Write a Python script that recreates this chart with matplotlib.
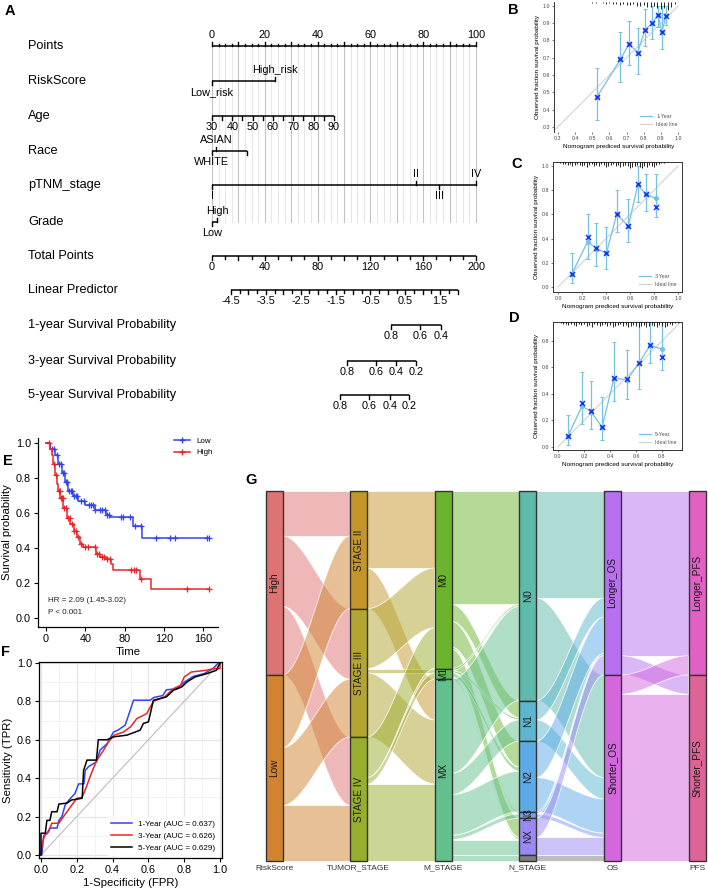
import numpy as np
import matplotlib
matplotlib.use("Agg")
import matplotlib.pyplot as plt
from matplotlib.patches import Rectangle, Polygon
from matplotlib.lines import Line2D
from matplotlib.colors import to_rgba

plt.rcParams["font.family"] = ["Liberation Sans", "DejaVu Sans"]

# ---------------- A: nomogram (positions in the 0-100 points scale) ----------------
nomo_labels = ["Points", "RiskScore", "Age", "Race", "pTNM_stage", "Grade",
               "Total Points", "Linear Predictor", "1-year Survival Probability",
               "3-year Survival Probability", "5-year Survival Probability"]
risk_levels = ["Low_risk", "High_risk"]
risk_points = [0.0, 23.9]
age_ticks = [30, 35, 40, 45, 50, 55, 60, 65, 70, 75, 80, 85, 90]
age_labels = [30, 40, 50, 60, 70, 80, 90]
age_max_points = 46.2
race_levels = ["WHITE", "ASIAN", ""]
race_points = [0.0, 1.5, 13.3]
stage_levels = ["I", "II", "III", "IV"]
stage_points = [0.0, 77.3, 86.0, 100.0]
grade_levels = ["Low", "High"]
grade_points = [0.0, 2.0]
lp_labels = [-4.5, -3.5, -2.5, -1.5, -0.5, 0.5, 1.5]
lp_range = [-4.5, 2.0]
lp_total_at_min = 14.4      # total points at LP = -4.5
lp_total_per_unit = 26.4
surv1_probs = [0.8, 0.6, 0.4]
surv1_total = [135.6, 157.6, 173.5]
surv3_probs = [0.8, 0.6, 0.4, 0.2]
surv3_total = [102.4, 124.2, 139.4, 154.5]
surv5_probs = [0.8, 0.6, 0.4, 0.2]
surv5_total = [97.0, 119.0, 134.8, 149.2]

# ---------------- B-D: calibration ----------------
b_pred = [0.528, 0.664, 0.714, 0.765, 0.806, 0.849, 0.884, 0.905, 0.932]
b_obs = [0.474, 0.69, 0.78, 0.73, 0.86, 0.90, 0.95, 0.85, 0.945]
b_corr = [0.47, 0.69, 0.78, 0.73, 0.86, 0.90, 0.95, 0.85, 0.94]
b_lo = [0.34, 0.56, 0.66, 0.605, 0.77, 0.81, 0.88, 0.75, 0.89]
b_hi = [0.64, 0.85, 0.915, 0.87, 0.98, 1.0, 1.0, 1.0, 1.0]
b_rug = [1, 1, 0, 1, 2, 1, 2, 2, 3, 2, 3, 3, 2, 4, 4, 3, 5, 5, 4, 6, 7, 6, 8, 5, 2]

c_pred = [0.114, 0.247, 0.319, 0.403, 0.489, 0.586, 0.664, 0.733, 0.814]
c_obs = [0.105, 0.376, 0.318, 0.28, 0.60, 0.503, 0.843, 0.768, 0.732]
c_corr = [0.105, 0.41, 0.325, 0.28, 0.60, 0.503, 0.85, 0.77, 0.664]
c_lo = [0.036, 0.232, 0.174, 0.152, 0.455, 0.376, 0.705, 0.63, 0.575]
c_hi = [0.28, 0.60, 0.53, 0.50, 0.80, 0.724, 1.0, 0.93, 0.93]
c_rug = [1, 2, 2, 3, 2, 4, 3, 2, 3, 4, 3, 5, 3, 2, 4, 3, 4, 2, 3, 5, 4, 3, 2, 4,
         3, 5, 4, 3, 4, 6, 5, 4, 3, 5, 6, 4, 5, 3, 4, 5, 3, 2, 1, 1, 0]

d_pred = [0.075, 0.186, 0.255, 0.34, 0.431, 0.532, 0.622, 0.71, 0.80]
d_obs = [0.08, 0.31, 0.264, 0.15, 0.52, 0.507, 0.632, 0.768, 0.737]
d_corr = [0.085, 0.33, 0.27, 0.15, 0.52, 0.51, 0.63, 0.77, 0.677]
d_lo = [0.018, 0.175, 0.138, 0.055, 0.344, 0.363, 0.434, 0.635, 0.58]
d_hi = [0.243, 0.564, 0.494, 0.38, 0.79, 0.73, 0.94, 0.94, 0.94]
d_rug = [1, 2, 2, 3, 2, 3, 4, 2, 3, 2, 4, 3, 5, 2, 3, 4, 3, 2, 4, 3, 5, 4, 3, 2,
         4, 3, 5, 4, 3, 4, 5, 4, 3, 5, 4, 3, 4, 5, 3, 4, 5, 4, 2, 3, 1, 1]

# ---------------- E: Kaplan-Meier ----------------
low_time = [0, 4, 9, 12, 16, 19, 22, 27, 33, 40, 50, 61, 65, 88, 98, 166]
low_surv = [1.0, 0.965, 0.93, 0.88, 0.83, 0.78, 0.725, 0.695, 0.667, 0.645,
            0.62, 0.59, 0.576, 0.529, 0.457, 0.457]
low_censor = [6, 8, 11, 13, 15, 17, 18, 20, 21, 23, 25, 26, 28, 30, 32, 36, 39, 44,
              46, 48, 50, 55, 57, 60, 62, 64, 76, 78, 85, 91, 97, 112, 126, 131, 164, 166]
high_time = [0, 4, 6, 7.5, 9, 11, 12.6, 14.3, 17.7, 21, 24.5, 28, 31, 34.7, 38,
             51, 55, 61, 66.5, 68.5, 95.5, 107, 166]
high_surv = [1.0, 0.965, 0.93, 0.88, 0.82, 0.765, 0.725, 0.687, 0.63, 0.57, 0.54,
             0.5, 0.462, 0.425, 0.405, 0.367, 0.35, 0.34, 0.31, 0.273, 0.226, 0.169, 0.169]
high_censor = [3, 8, 10, 13, 14, 15, 16, 17, 18, 20, 22, 24, 26, 28, 30, 33, 36, 40,
               43, 50, 52, 54, 57, 59, 62, 65, 86, 90, 92, 97, 143, 166]

# ---------------- F: ROC ----------------
roc1_fpr = [0, 0.005, 0.015, 0.033, 0.05, 0.09, 0.10, 0.117, 0.135, 0.16, 0.19, 0.21,
            0.24, 0.247, 0.266, 0.31, 0.33, 0.37, 0.405, 0.43, 0.47, 0.49, 0.517, 0.61,
            0.63, 0.68, 0.70, 0.76, 0.80, 0.85, 0.91, 0.96, 0.99, 1.0]
roc1_tpr = [0, 0.0, 0.10, 0.11, 0.14, 0.14, 0.18, 0.20, 0.26, 0.29, 0.32, 0.37, 0.37,
            0.44, 0.46, 0.485, 0.546, 0.58, 0.64, 0.65, 0.676, 0.73, 0.806, 0.806, 0.82,
            0.83, 0.86, 0.866, 0.90, 0.93, 0.944, 0.97, 1.0, 1.0]
roc3_fpr = [0, 0.006, 0.024, 0.043, 0.06, 0.10, 0.126, 0.2, 0.23, 0.256, 0.275, 0.31,
            0.35, 0.377, 0.41, 0.46, 0.5, 0.535, 0.59, 0.628, 0.69, 0.74, 0.78, 0.80,
            0.84, 0.925, 0.96, 1.0, 1.0]
roc3_tpr = [0, 0.06, 0.11, 0.12, 0.165, 0.165, 0.2, 0.295, 0.30, 0.36, 0.41, 0.49,
            0.546, 0.59, 0.624, 0.64, 0.667, 0.71, 0.736, 0.80, 0.823, 0.866, 0.884,
            0.927, 0.953, 0.962, 0.97, 0.97, 1.0]
roc5_fpr = [0, 0.0, 0.024, 0.033, 0.05, 0.06, 0.09, 0.10, 0.145, 0.17, 0.23, 0.238,
            0.257, 0.31, 0.32, 0.37, 0.405, 0.48, 0.554, 0.572, 0.6, 0.628, 0.70, 0.74,
            0.786, 0.814, 0.86, 0.925, 0.98, 1.0]
roc5_tpr = [0, 0.113, 0.113, 0.18, 0.18, 0.225, 0.225, 0.265, 0.27, 0.286, 0.295,
            0.44, 0.494, 0.494, 0.6, 0.6, 0.615, 0.624, 0.65, 0.685, 0.693, 0.806,
            0.823, 0.858, 0.875, 0.9, 0.927, 0.944, 0.962, 1.0]
roc_labels = ["1-Year (AUC = 0.637)", "3-Year (AUC = 0.626)", "5-Year (AUC = 0.629)"]

# ---------------- G: alluvial ----------------
sankey_axes = ["RiskScore", "TUMOR_STAGE", "M_STAGE", "N_STAGE", "OS", "PFS"]
risk_strata = ["High", "Low"]
tumor_strata = ["STAGE II", "STAGE III", "STAGE IV"]
m_strata = ["M0", "M1", "MX"]
n_strata = ["N0", "N1", "N2", "N3", "NX", ""]
os_strata = ["Longer_OS", "Shorter_OS"]
pfs_strata = ["Longer_PFS", "Shorter_PFS"]
risk_to_tumor = [[21, 33, 32], [34, 27, 26]]
tumor_to_m = [[36, 0, 19], [28, 2, 30], [19, 3, 36]]
m_to_n = [[53, 8, 12, 1, 9, 0], [1, 1, 2, 0, 1, 0], [44, 10, 19, 2, 7, 3]]
n_to_os = [[50, 48], [9, 10], [17, 16], [1, 2], [9, 8], [0, 3]]
os_to_pfs = [[77, 9], [9, 78]]
strata_colors = [["#DE7373", "#D2832F"],
                 ["#C4962A", "#B3A530", "#98AE2E"],
                 ["#6CB42E", "#5DBA58", "#62C08C"],
                 ["#5EBAAA", "#5BB6CF", "#5DAAE8", "#7A9CF2", "#9C88F2", "#7F7F7F"],
                 ["#B970F0", "#D466DE"],
                 ["#E060C4", "#DE6496"]]

W, H = 708, 891
fig = plt.figure(figsize=(W / 100, H / 100), dpi=100)


def px_axes(x0, y0, x1, y1):
    return fig.add_axes([x0 / W, 1 - y1 / H, (x1 - x0) / W, (y1 - y0) / H])


def panel_label(x, y, s):
    fig.text(x / W, 1 - y / H, s, fontsize=10.5, fontweight="bold", ha="center", va="center")


# ================= A =================
PT_X0, PT_PX = 212, 2.64
axA = px_axes(0, 0, 490, 440)
axA.set_xlim(-PT_X0 / PT_PX, (490 - PT_X0) / PT_PX)
axA.set_ylim(440, 0)
axA.axis("off")
row_y = [46, 81, 116, 151, 185, 222, 256, 290, 325, 361, 395]
label_x = (28 - PT_X0) / PT_PX
for lab, y in zip(nomo_labels, row_y):
    axA.text(label_x, y, lab, ha="left", va="center", fontsize=9.2)

TICK_FS = 7.8
LW = 1.1


def hline(x0, x1, y):
    axA.plot([x0, x1], [y, y], color="black", lw=LW, solid_capstyle="butt")


def tick(x, y, length):
    axA.plot([x, x], [y, y + length], color="black", lw=LW * 0.9)


def tick_label(x, y, s, below=True):
    axA.text(x, y + (11 if below else -11), s, ha="center", va="center", fontsize=TICK_FS)


# vertical grid
for p in np.arange(0, 100.1, 2.5):
    col = "#C4C4C4" if p % 10 == 0 else "#E6E6E6"
    axA.plot([p, p], [row_y[0], row_y[5]], color=col, lw=0.8, zorder=0)

# Points
y = row_y[0]
hline(0, 100, y)
for p in np.arange(0, 100.1, 2.5):
    tick(p, y, -4 if p % 10 == 0 else -2.5)
for p in range(0, 101, 20):
    tick_label(p, y, str(p), below=False)


def categorical(y, pts, levels, above):
    hline(min(pts), max(pts), y)
    for p, lev, up in zip(pts, levels, above):
        tick(p, y, -4 if up else 4)
        if lev:
            tick_label(p, y, lev, below=not up)


categorical(row_y[1], risk_points, risk_levels, [False, True])
# Age
y = row_y[2]
age_pts = [(a - age_ticks[0]) / (age_ticks[-1] - age_ticks[0]) * age_max_points for a in age_ticks]
hline(age_pts[0], age_pts[-1], y)
for a, p in zip(age_ticks, age_pts):
    tick(p, y, 4)
    if a in age_labels:
        tick_label(p, y, str(a))
categorical(row_y[3], race_points, race_levels, [False, True, False])
categorical(row_y[4], stage_points, stage_levels, [False, True, False, True])
categorical(row_y[5], grade_points, grade_levels, [False, True])

# Total points (0-200 mapped to 0-100)
y = row_y[6]
hline(0, 100, y)
for tp in range(0, 201, 10):
    tick(tp / 2, y, 4 if tp % 20 == 0 else 2.5)
for tp in range(0, 201, 40):
    tick_label(tp / 2, y, str(tp))


def lp_x(lp):
    return (lp_total_at_min + (lp - lp_range[0]) * lp_total_per_unit) / 2


y = row_y[7]
hline(lp_x(lp_range[0]), lp_x(lp_range[1]), y)
for lp in np.arange(lp_range[0], lp_range[1] + 0.01, 0.25):
    tick(lp_x(lp), y, 4 if abs(lp * 2 - round(lp * 2)) < 1e-6 else 2.5)
for lp in lp_labels:
    tick_label(lp_x(lp), y, f"{lp:g}")

for y, probs, tots in [(row_y[8], surv1_probs, surv1_total),
                       (row_y[9], surv3_probs, surv3_total),
                       (row_y[10], surv5_probs, surv5_total)]:
    hline(tots[0] / 2, tots[-1] / 2, y)
    for pr, tp in zip(probs, tots):
        tick(tp / 2, y, 4)
        tick_label(tp / 2, y, f"{pr:.1f}")

# ================= B-D =================
CAL_BLUE = "#74C2E0"
X_BLUE = "#1A35F0"


def calib(box, xlim, ylim, xticks, yticks, pred, obs, corr, lo, hi, rug, rug_x0,
          legend_label, frame):
    ax = px_axes(*box)
    ax.set_xlim(xlim)
    ax.set_ylim(ylim)
    ax.plot([0, 1], [0, 1], color="#D2D2D2", lw=0.8, zorder=1)
    obs = np.array(obs)
    ax.errorbar(pred, obs, yerr=[obs - np.array(lo), np.array(hi) - obs], color=CAL_BLUE,
                lw=0.9, elinewidth=0.9, capsize=1.3, capthick=0.7, marker="o", ms=2.6, zorder=2)
    ax.plot(pred, corr, "x", color=X_BLUE, ms=3.6, mew=1.1, zorder=3)
    span = ylim[1] - ylim[0]
    rx = [rug_x0 + 0.02 * i for i in range(len(rug))]
    ax.vlines(rx, [ylim[1] - c * 0.008 * span for c in rug], ylim[1], color="black", lw=0.6,
              zorder=4)
    ax.set_xticks(xticks)
    ax.set_yticks(yticks)
    ax.set_xticklabels([f"{v:.1f}" for v in xticks])
    ax.set_yticklabels([f"{v:.1f}" for v in yticks])
    ax.tick_params(labelsize=3.8, length=1.5, width=0.5, pad=1.5, colors="#444444")
    for side, sp in ax.spines.items():
        sp.set_linewidth(0.7)
        sp.set_color("#333333")
        if not frame and side in ("top", "right", "bottom"):
            sp.set_visible(False)
    ax.set_xlabel("Nomogram prediced survival probability", fontsize=4.6, labelpad=2)
    ax.set_ylabel("Observed fraction survival probability", fontsize=4.6, labelpad=2)
    handles = [Line2D([], [], color=CAL_BLUE, lw=0.9), Line2D([], [], color="#D2D2D2", lw=0.9)]
    ax.legend(handles, [legend_label, "Ideal line"], loc="lower right", fontsize=3.8,
              frameon=False, handlelength=2.2, labelcolor="#555555", borderaxespad=0.6)
    return ax


calib((554, 2, 683, 132), (0.277, 1.029), (0.27, 1.023),
      [0.3, 0.4, 0.5, 0.6, 0.7, 0.8, 0.9, 1.0], [0.3, 0.4, 0.5, 0.6, 0.7, 0.8, 0.9, 1.0],
      b_pred, b_obs, b_corr, b_lo, b_hi, b_rug, 0.50, "1-Year", False)
calib((553, 162, 682, 292), (-0.042, 1.033), (-0.041, 1.033),
      [0.0, 0.2, 0.4, 0.6, 0.8, 1.0], [0.0, 0.2, 0.4, 0.6, 0.8, 1.0],
      c_pred, c_obs, c_corr, c_lo, c_hi, c_rug, 0.02, "3-Year", True)
calib((553, 322, 682, 450), (-0.038, 0.954), (-0.023, 0.943),
      [0.0, 0.2, 0.4, 0.6, 0.8], [0.0, 0.2, 0.4, 0.6, 0.8],
      d_pred, d_obs, d_corr, d_lo, d_hi, d_rug, 0.02, "5-Year", True)

# ================= E =================
KM_BLUE = "#3344EE"
KM_RED = "#E8262A"
axE = px_axes(38, 438, 218, 627)
for t, s, cens, col, lab in [(low_time, low_surv, low_censor, KM_BLUE, "Low"),
                             (high_time, high_surv, high_censor, KM_RED, "High")]:
    axE.step(t, s, where="post", color=col, lw=1.1, label=lab,
             marker="+", markevery=[], ms=5)
    idx = np.searchsorted(t, cens, side="right") - 1
    axE.plot(cens, np.array(s)[idx], "+", color=col, ms=4.5, mew=0.9)
axE.set_xlim(-8.2, 175)
axE.set_ylim(-0.051, 1.029)
axE.set_xticks([0, 40, 80, 120, 160])
axE.set_yticks([0.0, 0.2, 0.4, 0.6, 0.8, 1.0])
axE.set_yticklabels(["0.0", "0.2", "0.4", "0.6", "0.8", "1.0"])
axE.spines[["top", "right"]].set_visible(False)
for sp in axE.spines.values():
    sp.set_linewidth(0.9)
axE.tick_params(labelsize=7.8, length=3, width=0.8, pad=2)
axE.set_xlabel("Time", fontsize=8.2, labelpad=2)
axE.set_ylabel("Survival probability", fontsize=8.2, labelpad=3)
km_handles = [Line2D([], [], color=KM_BLUE, lw=1.1, marker="+", ms=5),
              Line2D([], [], color=KM_RED, lw=1.1, marker="+", ms=5)]
axE.legend(km_handles, ["Low", "High"], loc="upper right", fontsize=5.8, frameon=False,
           handlelength=2.0, borderaxespad=0.2, bbox_to_anchor=(1.0, 1.03))
axE.text(2, 0.1, "HR = 2.09 (1.45-3.02)", fontsize=5.8, va="center", color="#222222")
axE.text(2, 0.03, "P < 0.001", fontsize=5.8, va="center", color="#222222")

# ================= F =================
axF = px_axes(39, 662, 222, 858)
axF.set_xlim(-0.011, 1.011)
axF.set_ylim(-0.016, 1.005)
axF.set_xticks([0, 0.2, 0.4, 0.6, 0.8, 1.0])
axF.set_yticks([0, 0.2, 0.4, 0.6, 0.8, 1.0])
axF.set_xticks(np.arange(0.1, 1.0, 0.2), minor=True)
axF.set_yticks(np.arange(0.1, 1.0, 0.2), minor=True)
axF.set_xticklabels(["0.0", "0.2", "0.4", "0.6", "0.8", "1.0"])
axF.set_yticklabels(["0.0", "0.2", "0.4", "0.6", "0.8", "1.0"])
axF.grid(True, which="major", color="#E6E6E6", lw=0.9)
axF.grid(True, which="minor", color="#F0F0F0", lw=0.6)
axF.tick_params(which="minor", length=0)
axF.tick_params(labelsize=7.8, length=3, width=0.8, pad=2)
axF.set_axisbelow(True)
for sp in axF.spines.values():
    sp.set_linewidth(0.9)
axF.plot([0, 1], [0, 1], color="#BDBDBD", lw=0.8)
for fpr, tpr, col, lab in [(roc1_fpr, roc1_tpr, "#3344EE", roc_labels[0]),
                           (roc3_fpr, roc3_tpr, "#E8262A", roc_labels[1]),
                           (roc5_fpr, roc5_tpr, "black", roc_labels[2])]:
    axF.plot(fpr, tpr, color=col, lw=1.1, label=lab)
axF.legend(loc="lower right", fontsize=5.8, frameon=True, fancybox=False, edgecolor="white",
           handlelength=2.6, borderaxespad=0.4)
axF.set_xlabel("1-Specificity (FPR)", fontsize=8.2, labelpad=2)
axF.set_ylabel("Sensitivity (TPR)", fontsize=8.2, labelpad=3)

# ================= G =================
strata = [risk_strata, tumor_strata, m_strata, n_strata, os_strata, pfs_strata]
flows = [risk_to_tumor, tumor_to_m, m_to_n, n_to_os, os_to_pfs]
totals = [np.array(risk_to_tumor).sum(axis=1)] + [np.array(f).sum(axis=0) for f in flows]
N = totals[0].sum()
G_TOP, G_BOT = 491, 861
scale = N / (G_BOT - G_TOP)
axG = px_axes(250, 486, 708, 878)
STEP = 84.6
axG.set_xlim(-24 / STEP, (708 - 274) / STEP)
axG.set_ylim(N + (878 - G_BOT) * scale, -(G_TOP - 486) * scale)
axG.axis("off")
half_w = 8.5 / STEP
tt = np.linspace(0, 1, 60)
ss = tt * tt * (3 - 2 * tt)
for i, mat in enumerate(flows):
    mat = np.array(mat)
    lstart = np.concatenate([[0], np.cumsum(totals[i])[:-1]])
    rstart = np.concatenate([[0], np.cumsum(totals[i + 1])[:-1]])
    x0, x1 = i + half_w, i + 1 - half_w
    xs = x0 + (x1 - x0) * tt
    for a in range(mat.shape[0]):
        for b in range(mat.shape[1]):
            v = mat[a, b]
            if v == 0:
                continue
            ly = lstart[a] + mat[a, :b].sum()
            ry = rstart[b] + mat[:a, b].sum()
            top = ly + (ry - ly) * ss
            poly = np.column_stack([np.concatenate([xs, xs[::-1]]),
                                    np.concatenate([top, (top + v)[::-1]])])
            axG.add_patch(Polygon(poly, closed=True, facecolor=to_rgba(strata_colors[i][a], 0.5),
                                  edgecolor=(1, 1, 1, 0.85), lw=0.6, zorder=1))
for i, (names, tots) in enumerate(zip(strata, totals)):
    start = 0
    for name, v, col in zip(names, tots, strata_colors[i]):
        axG.add_patch(Rectangle((i - half_w, start), 2 * half_w, v, facecolor=col,
                                edgecolor="#333333", lw=1.0, zorder=3))
        if name:
            axG.text(i, start + v / 2, name, rotation=90, ha="center", va="center",
                     fontsize=7.2, color="#1a1a1a", zorder=4)
        start += v
    axG.text(i, N + 7 * scale, sankey_axes[i], ha="center", va="center", fontsize=6.0,
             color="#333333")

panel_label(10, 11, "A")
panel_label(513, 10, "B")
panel_label(517, 164, "C")
panel_label(514, 318, "D")
panel_label(8, 461, "E")
panel_label(6, 652, "F")
panel_label(251, 480, "G")

fig.savefig("out.png", dpi=100)
